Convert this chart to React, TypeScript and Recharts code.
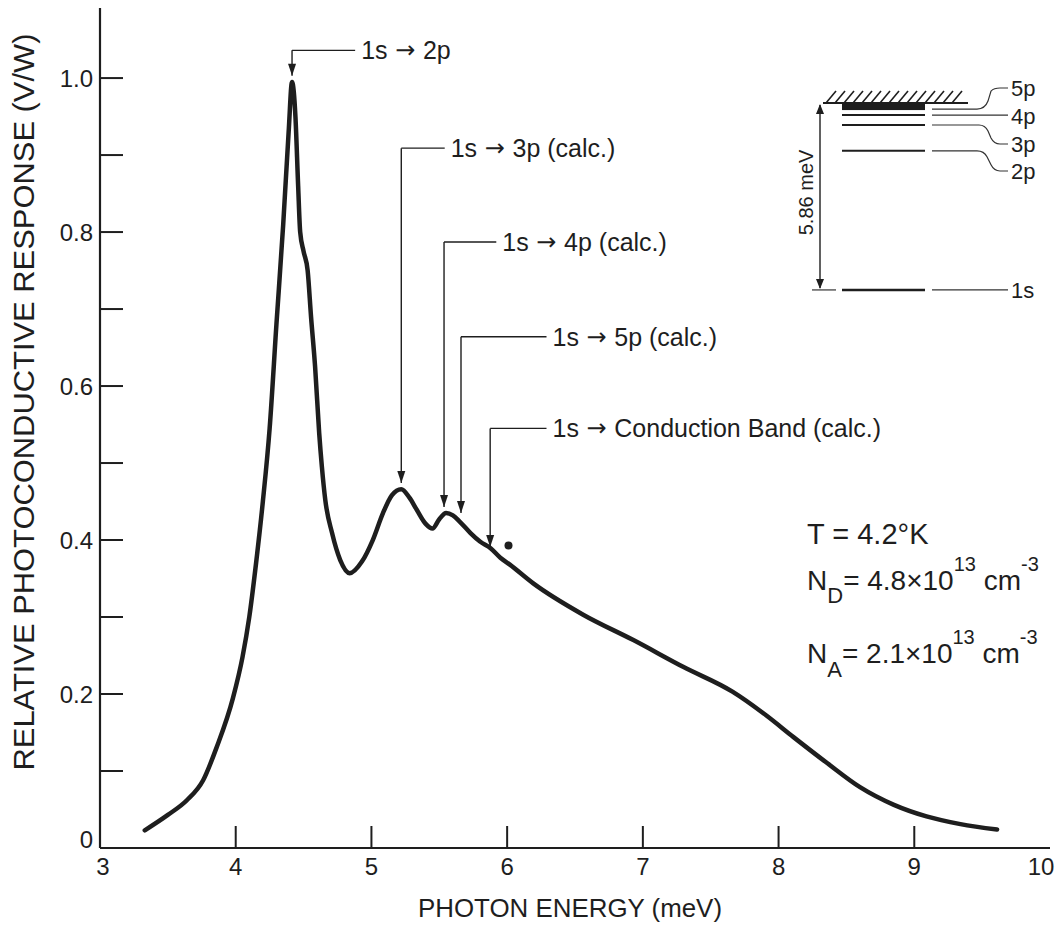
import React from 'react';
import { LineChart, Line, XAxis, YAxis, ReferenceLine, ReferenceDot } from 'recharts';

// ---- data ----
const energy = [
  3.33, 3.5, 3.64, 3.76, 3.86, 3.98, 4.05, 4.1, 4.15, 4.2, 4.25, 4.3, 4.35, 4.39, 4.415,
  4.44, 4.46, 4.475, 4.5, 4.53, 4.555, 4.585, 4.615, 4.635, 4.66, 4.71, 4.77, 4.84, 4.93, 5.01, 5.085, 5.15, 5.22,
  5.28, 5.335, 5.4, 5.45, 5.5, 5.55, 5.6, 5.65, 5.73, 5.8, 5.88, 5.95, 6.02, 6.19, 6.56, 6.93,
  7.3, 7.66, 7.91, 8.11, 8.36, 8.6, 8.85, 9.09, 9.34, 9.61,
];
const response = [
  0.023, 0.043, 0.062, 0.088, 0.131, 0.195, 0.248, 0.3, 0.37, 0.45, 0.545, 0.68, 0.81, 0.93, 0.995,
  0.95, 0.86, 0.8, 0.775, 0.75, 0.69, 0.625, 0.539, 0.495, 0.452, 0.409, 0.374, 0.357, 0.372, 0.4, 0.435, 0.458, 0.466,
  0.455, 0.439, 0.421, 0.415, 0.427, 0.435, 0.432, 0.424, 0.409, 0.398, 0.389, 0.377, 0.368, 0.344, 0.303, 0.27,
  0.235, 0.203, 0.172, 0.144, 0.11, 0.079, 0.056, 0.041, 0.031, 0.024,
];

const xTicks = [3, 4, 5, 6, 7, 8, 9, 10];
const yTicks = [0, 0.1, 0.2, 0.3, 0.4, 0.5, 0.6, 0.7, 0.8, 0.9, 1.0];
const yLabelValues = [0, 0.2, 0.4, 0.6, 0.8, 1.0];
const yLabelTexts = ['0', '0.2', '0.4', '0.6', '0.8', '1.0'];

// transition annotations (value coordinates)
const annFinal = ['2p', '3p (calc.)', '4p (calc.)', '5p (calc.)', 'Conduction Band (calc.)'];
const annEnergy = [4.415, 5.22, 5.535, 5.66, 5.875];
const annTip = [1.003, 0.474, 0.443, 0.435, 0.391];
const annLevel = [1.036, 0.909, 0.787, 0.664, 0.545];
const annTextX = [4.88, 5.54, 5.92, 6.29, 6.29];

// stray ink blob in the reference
const blobX = [6.01];
const blobY = [0.393];

// inset: donor levels, binding energy (meV)
const levelNames = ['1s', '2p', '3p', '4p', '5p'];
const levelBinding = [5.86, 1.5, 0.69, 0.38, 0.19];

const data = energy.map((e, i) => ({ e, r: response[i] }));

const FONT = "'Liberation Sans', Arial, sans-serif";
const ARROW_FONT = "'DejaVu Sans', sans-serif";
const INK = '#1e1e1e';

const YTick = (props: any) => {
  const { x, y, payload } = props;
  const v = payload.value;
  const ax = x + 8;
  const idx = yLabelValues.findIndex((w) => Math.abs(w - v) < 1e-6);
  return (
    <g>
      {v > 0.01 && <line x1={ax} x2={ax + 23} y1={y} y2={y} stroke={INK} strokeWidth={2} />}
      {idx >= 0 && (
        <text x={ax - 7} y={y + (v === 0 ? -9 : 0)} textAnchor="end" dominantBaseline="central"
          fontFamily={FONT} fontSize={24} fill={INK}>
          {yLabelTexts[idx]}
        </text>
      )}
    </g>
  );
};

const XTick = (props: any) => {
  const { x, y, payload } = props;
  const v = payload.value;
  const ay = y - 8;
  return (
    <g>
      {v > 3 && v < 10 && <line x1={x} x2={x} y1={ay} y2={ay - 22} stroke={INK} strokeWidth={2} />}
      <text x={v === 10 ? x - 9 : v === 3 ? x + 3 : x} y={ay + 27} textAnchor="middle" fontFamily={FONT} fontSize={24} fill={INK}>
        {String(v)}
      </text>
    </g>
  );
};

const Inset = () => {
  const cbY = 103;
  const k = 31.9;
  const yOf = (E: number) => cbY + E * k;
  const hatch: number[] = [];
  for (let x = 826; x <= 958; x += 9) hatch.push(x);
  const thin = '#333';
  const yl = levelNames.map((_, i) => yOf(levelBinding[i]));
  const labelX = 1011;
  return (
    <g fontFamily={FONT} fill={INK}>
      <line x1={823} x2={968} y1={cbY} y2={cbY} stroke={INK} strokeWidth={1.8} />
      {hatch.map((x) => (
        <line key={x} x1={x} y1={cbY} x2={x + 10} y2={cbY - 12} stroke={INK} strokeWidth={1.6} />
      ))}
      <rect x={842} y={cbY} width={83} height={yl[4] - cbY + 1} fill={INK} />
      {levelNames.map((n, i) => (
        <line key={n} x1={842} x2={925} y1={yl[i]} y2={yl[i]} stroke={INK} strokeWidth={i === 0 ? 2.6 : 2} />
      ))}
      <path d={`M932 ${yl[4]} H977 Q985 ${yl[4]} 988 ${yl[4] - 8} L991 ${yl[4] - 18} Q994 ${88} 1000 ${88} H1008`} fill="none" stroke={thin} strokeWidth={1.2} />
      <path d={`M932 ${yl[3]} H1008`} fill="none" stroke={thin} strokeWidth={1.2} />
      <path d={`M932 ${yl[2]} H979 Q985 ${yl[2]} 988 ${yl[2] + 6} L991 ${yl[2] + 13} Q994 ${144} 1000 ${144} H1008`} fill="none" stroke={thin} strokeWidth={1.2} />
      <path d={`M932 ${yl[1]} H977 Q984 ${yl[1]} 987 ${yl[1] + 6} L991 ${yl[1] + 14} Q994 ${171} 1000 ${171} H1008`} fill="none" stroke={thin} strokeWidth={1.2} />
      <path d={`M932 ${yl[0]} H1008`} fill="none" stroke={thin} strokeWidth={1.2} />
      <line x1={812} x2={836} y1={yl[0]} y2={yl[0]} stroke={thin} strokeWidth={1.2} />
      <line x1={820} x2={820} y1={cbY + 2} y2={yl[0] - 2} stroke={INK} strokeWidth={1.4} />
      <polygon points={`816,${cbY + 11} 824,${cbY + 11} 820,${cbY + 1}`} fill={INK} />
      <polygon points={`816,${yl[0] - 11} 824,${yl[0] - 11} 820,${yl[0] - 1}`} fill={INK} />
      <text x={0} y={0} transform={`translate(806 ${(cbY + yl[0]) / 2 - 4}) rotate(-90)`} textAnchor="middle"
        dominantBaseline="central" fontSize={20}>5.86 meV</text>
      <text x={labelX} y={88} dominantBaseline="central" fontSize={22}>5p</text>
      <text x={labelX} y={yl[3] + 1} dominantBaseline="central" fontSize={22}>4p</text>
      <text x={labelX} y={144} dominantBaseline="central" fontSize={22}>3p</text>
      <text x={labelX} y={171} dominantBaseline="central" fontSize={22}>2p</text>
      <text x={labelX} y={yl[0] + 1} dominantBaseline="central" fontSize={22}>1s</text>
    </g>
  );
};

const Overlay = () => (
  <svg width={1056} height={925} style={{ position: 'absolute', left: 0, top: 0, pointerEvents: 'none' }}>
    <text transform="translate(34 402) rotate(-90)" textAnchor="middle" fontFamily={FONT} fontSize={29}
      fill={INK} textLength={737} lengthAdjust="spacingAndGlyphs">
      RELATIVE PHOTOCONDUCTIVE RESPONSE (V/W)
    </text>
    <text x={570} y={917} textAnchor="middle" fontFamily={FONT} fontSize={26} fill={INK}
      textLength={304} lengthAdjust="spacingAndGlyphs">
      PHOTON ENERGY (meV)
    </text>
    <Inset />
    <g fontFamily={FONT} fill={INK} fontSize={28}>
      <text x={807} y={544} fontSize={29}>T = 4.2°K</text>
      <text x={807} y={590}>
        N<tspan dy={13} fontSize={22}>D</tspan>
        <tspan dy={-13}>= 4.8×10</tspan>
        <tspan dy={-19} fontSize={20}>13</tspan>
        <tspan dy={19}> cm</tspan>
        <tspan dy={-19} fontSize={20}>-3</tspan>
      </text>
      <text x={807} y={663}>
        N<tspan dy={14} fontSize={22}>A</tspan>
        <tspan dy={-14}>= 2.1×10</tspan>
        <tspan dy={-19} fontSize={20}>13</tspan>
        <tspan dy={19}> cm</tspan>
        <tspan dy={-19} fontSize={20}>-3</tspan>
      </text>
    </g>
  </svg>
);

export default function App() {
  return (
    <div style={{ position: 'relative', width: 1056, height: 925, background: '#fff' }}>
      <style>{'body{margin:0;background:#fff}'}</style>
      <LineChart width={1056} height={925} data={data} margin={{ top: 8, right: 6, left: 0, bottom: 0 }}>
        <XAxis dataKey="e" type="number" domain={[3, 10]} ticks={xTicks} height={77} tickSize={0} tickMargin={8}
          axisLine={{ stroke: INK, strokeWidth: 2.2 }} tick={<XTick />} interval={0} allowDataOverflow />
        <XAxis xAxisId="top" orientation="top" type="number" domain={[3, 10]} height={0} tick={false}
          tickLine={false} axisLine={{ stroke: INK, strokeWidth: 2 }} />
        <YAxis type="number" domain={[0, 1.091]} ticks={yTicks} width={100} tickSize={0} tickMargin={8}
          axisLine={{ stroke: INK, strokeWidth: 2.2 }} tick={<YTick />} interval={0} allowDataOverflow />
        <YAxis yAxisId="right" orientation="right" type="number" domain={[0, 1.091]} width={0} tick={false}
          tickLine={false} axisLine={{ stroke: INK, strokeWidth: 2 }} />
        <Line dataKey="r" type="monotone" stroke={INK} strokeWidth={4.5} dot={false} isAnimationActive={false}
          strokeLinejoin="round" strokeLinecap="round" />
        {annFinal.map((lab, i) => (
          <ReferenceLine key={'v' + i} ifOverflow="visible" stroke={INK} strokeWidth={1.4}
            segment={[{ x: annEnergy[i], y: annTip[i] }, { x: annEnergy[i], y: annLevel[i] }]} />
        ))}
        {annFinal.map((lab, i) => (
          <ReferenceLine key={'h' + i} ifOverflow="visible" stroke={INK} strokeWidth={1.4}
            segment={[{ x: annEnergy[i], y: annLevel[i] }, { x: annTextX[i], y: annLevel[i] }]} />
        ))}
        {annFinal.map((lab, i) => (
          <ReferenceDot key={'a' + i} x={annEnergy[i]} y={annTip[i]} ifOverflow="visible"
            shape={(p: any) => (
              <polygon points={`${p.cx - 4},${p.cy - 12} ${p.cx + 4},${p.cy - 12} ${p.cx},${p.cy}`} fill={INK} />
            )} />
        ))}
        {annFinal.map((lab, i) => (
          <ReferenceDot key={'t' + i} x={annTextX[i]} y={annLevel[i]} ifOverflow="visible"
            shape={(p: any) => (
              <text x={p.cx + 6} y={p.cy} dominantBaseline="central" fontFamily={FONT} fontSize={25} fill={INK}>
                1s<tspan fontFamily={ARROW_FONT} fontSize={24}> → </tspan>{lab}
              </text>
            )} />
        ))}
        {blobX.map((bx, i) => (
          <ReferenceDot key={'b' + i} x={bx} y={blobY[i]} r={4} fill={INK} stroke="none" ifOverflow="visible" />
        ))}
      </LineChart>
      <Overlay />
    </div>
  );
}
